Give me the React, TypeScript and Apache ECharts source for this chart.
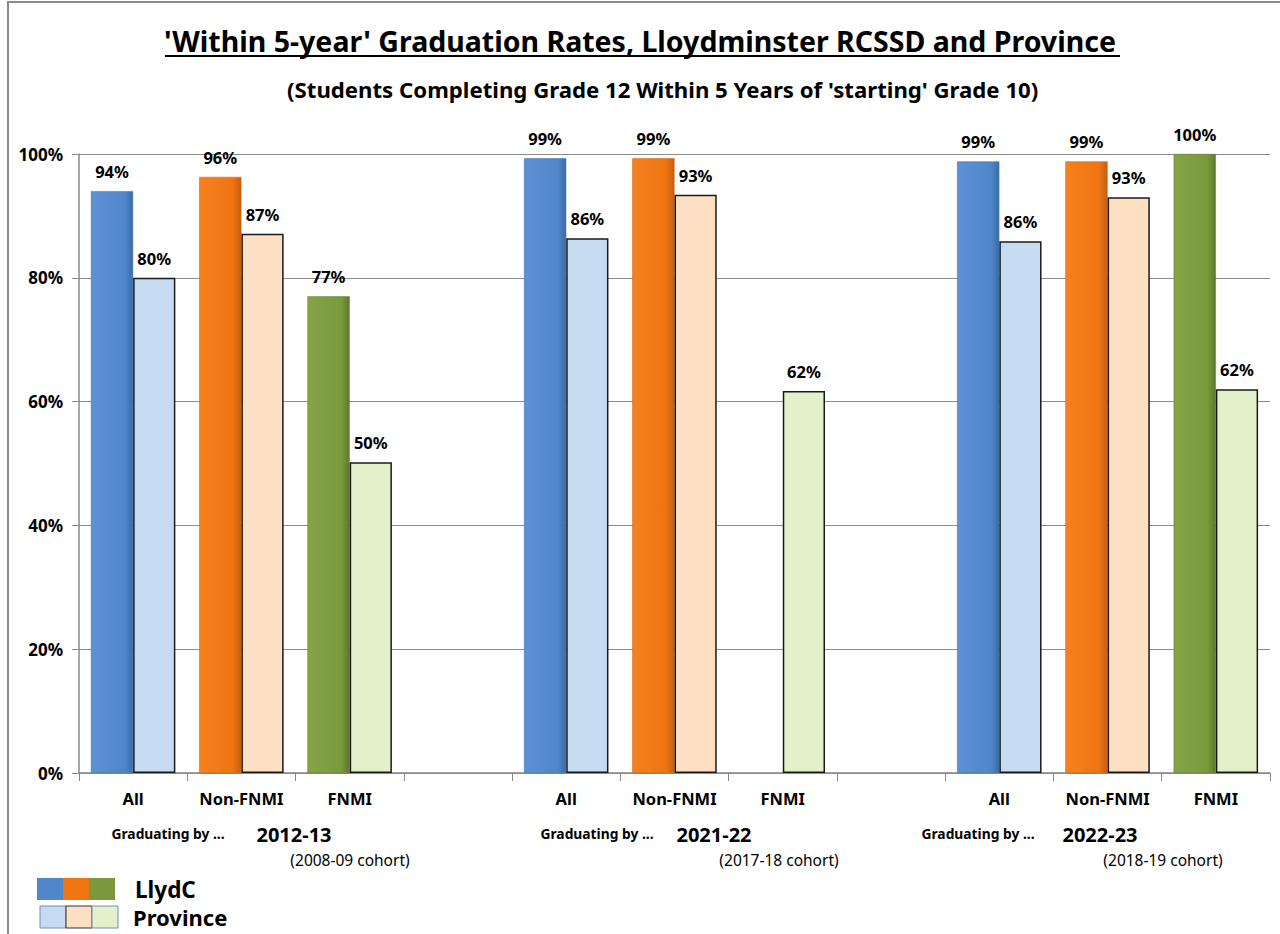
import React, { useEffect, useRef } from "react";
import * as echarts from "echarts";

const categories = ["All", "Non-FNMI", "FNMI", "", "All", "Non-FNMI", "FNMI", "", "All", "Non-FNMI", "FNMI"];
const llydcValues: (number | null)[] = [94, 96.3, 77, null, 99.3, 99.3, null, null, 98.8, 98.8, 100];
const provinceValues: (number | null)[] = [80, 87.1, 50.2, null, 86.4, 93.4, 61.7, null, 85.9, 93, 62];
const yTicks = [0, 20, 40, 60, 80, 100];
const groupYears = ["2012-13", "2021-22", "2022-23"];
const groupCohorts = ["(2008-09 cohort)", "(2017-18 cohort)", "(2018-19 cohort)"];

const FONT = "'Noto Sans', sans-serif";

const darkColors: Record<string, [string, string, string]> = {
  All: ["#5d91d4", "#5087cb", "#3c6ba8"],
  "Non-FNMI": ["#f7811f", "#ef7412", "#c85e0c"],
  FNMI: ["#86a346", "#7a993d", "#5f782e"],
};
const lightColors: Record<string, string> = {
  All: "#c6daf1",
  "Non-FNMI": "#fde0c3",
  FNMI: "#e3f0ca",
};

// annotation text anchors (x centres) for each group
const gradX = [168, 597, 978];
const yearX = [294, 714, 1100];
const cohortX = [350, 779, 1163];

function grad(c: [string, string, string]) {
  return new echarts.graphic.LinearGradient(0, 0, 1, 0, [
    { offset: 0, color: c[0] },
    { offset: 0.8, color: c[1] },
    { offset: 1, color: c[2] },
  ]);
}

export default function App() {
  const ref = useRef<HTMLDivElement>(null);
  useEffect(() => {
    document.body.style.margin = "0";
    if (!ref.current) return;
    const chart = echarts.init(ref.current, undefined, { renderer: "svg" });

    const llydcData = llydcValues.map((v, i) =>
      v == null
        ? null
        : { value: v, itemStyle: { color: grad(darkColors[categories[i]]), borderColor: darkColors[categories[i]][2], borderWidth: 0.5 } }
    );
    const provData = provinceValues.map((v, i) =>
      v == null ? null : { value: v, itemStyle: { color: lightColors[categories[i]], borderColor: "#1a1a1a", borderWidth: 1.5 } }
    );

    const label = {
      show: true,
      position: "top" as const,
      distance: 11,
      fontFamily: FONT,
      fontWeight: "bold" as const,
      fontSize: 16.5,
      color: "#000",
      formatter: (p: any) => Math.round(p.value) + "%",
    };

    const texts: any[] = [];
    groupYears.forEach((yr, k) => {
      texts.push({
        type: "text",
        x: gradX[k],
        y: 833,
        style: { text: "Graduating by ...", font: `bold 13.8px ${FONT}`, fill: "#000", align: "center", verticalAlign: "middle" },
      });
      texts.push({
        type: "text",
        x: yearX[k],
        y: 834,
        style: { text: yr, font: `bold 20px ${FONT}`, fill: "#000", align: "center", verticalAlign: "middle" },
      });
      texts.push({
        type: "text",
        x: cohortX[k],
        y: 860,
        style: { text: groupCohorts[k], font: `15.5px ${FONT}`, fill: "#000", align: "center", verticalAlign: "middle" },
      });
    });

    const sw = 26;
    const legendEls: any[] = [];
    ["All", "Non-FNMI", "FNMI"].forEach((c, i) => {
      legendEls.push({
        type: "rect",
        shape: { x: 37 + i * sw, y: 878, width: sw, height: 22 },
        style: { fill: darkColors[c][1] },
      });
      legendEls.push({
        type: "rect",
        shape: { x: 40 + i * sw, y: 906, width: sw, height: 22 },
        style: { fill: lightColors[c], stroke: i === 1 ? "#333" : "#6f8fb8", lineWidth: 1 },
      });
    });
    legendEls.push({
      type: "text",
      x: 135,
      y: 889,
      style: { text: "LlydC", font: `bold 22.5px ${FONT}`, fill: "#000", verticalAlign: "middle" },
    });
    legendEls.push({
      type: "text",
      x: 133,
      y: 917,
      style: { text: "Province", font: `bold 22px ${FONT}`, fill: "#000", verticalAlign: "middle" },
    });

    chart.setOption({
      animation: false,
      backgroundColor: "#fff",
      title: [
        {
          text: "'Within 5-year' Graduation Rates, Lloydminster RCSSD and Province",
          left: "center",
          top: 21,
          textStyle: { fontFamily: FONT, fontWeight: "bold", fontSize: 28.5, color: "#000" },
        },
        {
          text: "(Students Completing Grade 12 Within 5 Years of 'starting' Grade 10)",
          left: 282,
          top: 73,
          textStyle: { fontFamily: FONT, fontWeight: "bold", fontSize: 22.2, color: "#000" },
        },
      ],
      grid: { left: 79, right: 10, top: 154, bottom: 161, containLabel: false },
      xAxis: {
        type: "category",
        data: categories,
        axisLine: { show: true, lineStyle: { color: "#888", width: 1.5 } },
        axisTick: { show: true, alignWithLabel: false, interval: 0, length: 8, lineStyle: { color: "#888" } },
        axisLabel: { interval: 0, margin: 17, fontFamily: FONT, fontWeight: "bold", fontSize: 16.5, color: "#000" },
      },
      yAxis: {
        type: "value",
        min: yTicks[0],
        max: yTicks[yTicks.length - 1],
        interval: 20,
        axisLine: { show: true, lineStyle: { color: "#888", width: 1.5 } },
        axisTick: { show: true, length: 7, lineStyle: { color: "#888" } },
        axisLabel: { margin: 16, fontFamily: FONT, fontWeight: "bold", fontSize: 17, color: "#000", formatter: "{value}%" },
        splitLine: { show: true, lineStyle: { color: "#8c8c8c", width: 1.2 } },
      },
      series: [
        { name: "LlydC", type: "bar", data: llydcData, barGap: "0%", barCategoryGap: "22%", label },
        { name: "Province", type: "bar", data: provData, barGap: "0%", barCategoryGap: "22%", label },
      ],
      graphic: [
        {
          type: "rect",
          shape: { x: 8, y: 2, width: 1300, height: 960 },
          style: { fill: "none", stroke: "#8a8a8a", lineWidth: 2 },
          silent: true,
        },
        {
          type: "line",
          shape: { x1: 165, y1: 56, x2: 1120, y2: 56 },
          style: { stroke: "#000", lineWidth: 2 },
        },
        ...texts,
        ...legendEls,
      ],
    });
    return () => chart.dispose();
  }, []);
  return <div ref={ref} style={{ width: 1280, height: 934 }} />;
}
